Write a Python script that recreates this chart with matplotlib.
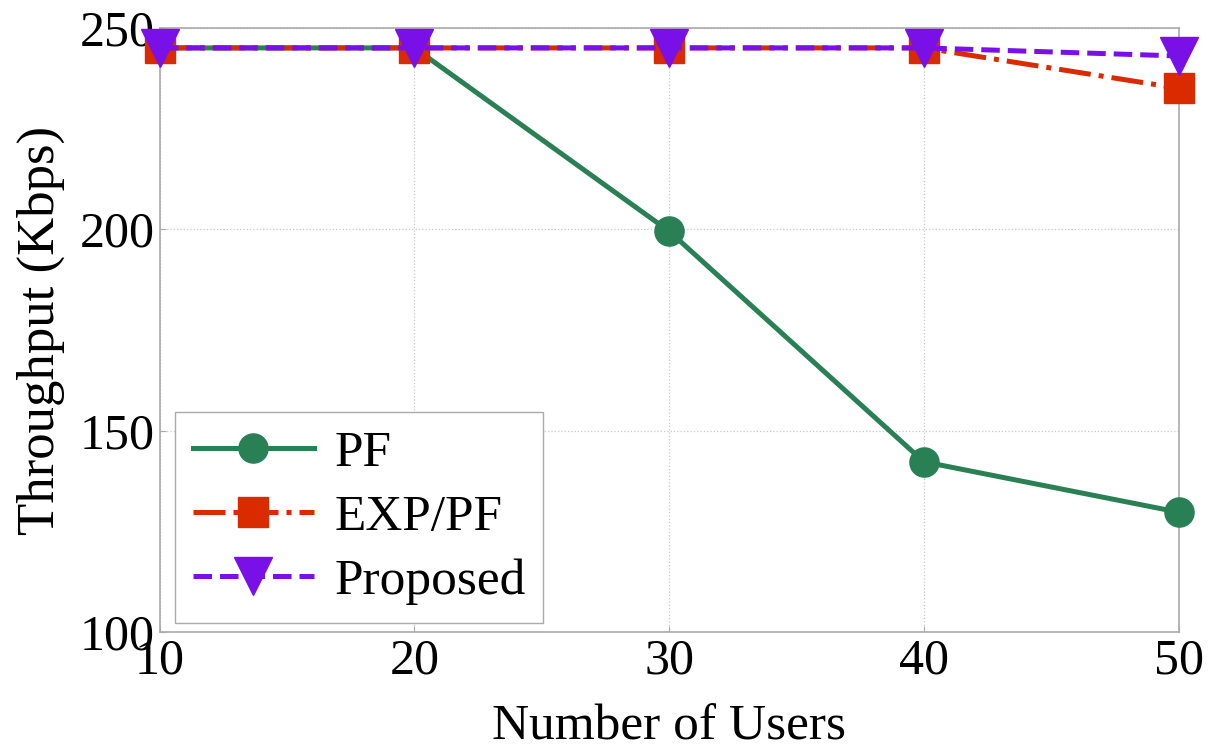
import matplotlib.pyplot as plt

users = [10, 20, 30, 40, 50]
pf = [245, 245, 199.5, 142.3, 129.8]
exp_pf = [245, 245, 245, 245, 235]
proposed = [245, 245, 245, 245, 243]

plt.rcParams['font.family'] = ['Liberation Serif', 'DejaVu Serif']

fig = plt.figure(figsize=(12.2, 7.5), dpi=100)
ax = fig.add_axes([0.131, 0.157, 0.835, 0.806])

ax.plot(users, pf, '-o', color='#2a8055', lw=3.6, ms=21, label='PF', clip_on=False, zorder=3)
ax.plot(users, exp_pf, '-.s', color='#d92a00', lw=3.6, ms=21, label='EXP/PF', clip_on=False, zorder=4)
ax.plot(users, proposed, '--v', color='#7a10e8', lw=3.6, ms=28, label='Proposed', clip_on=False, zorder=5)

ax.set_xlim(10, 50)
ax.set_ylim(100, 250)
ax.set_xticks([10, 20, 30, 40, 50])
ax.set_yticks([100, 150, 200, 250])
ax.grid(True, color='#c8c8c8', ls=':', lw=0.9)
for s in ax.spines.values():
    s.set_color('#aaaaaa')
    s.set_linewidth(1.2)
ax.tick_params(labelsize=36, color='#aaaaaa', direction='in', length=4, pad=4)

ax.set_xlabel('Number of Users', fontsize=37, labelpad=14)
ax.set_ylabel('Throughput (Kbps)', fontsize=38, labelpad=10)

leg = ax.legend(loc='lower left', bbox_to_anchor=(0.0147, 0.0149), fontsize=37,
                fancybox=False, framealpha=1, edgecolor='#aaaaaa', borderaxespad=0,
                handlelength=2.35, labelspacing=0.33, borderpad=0.35, handletextpad=0.4)
leg.get_frame().set_linewidth(1.0)
leg.set_zorder(6)

fig.savefig('out.png', dpi=100)
